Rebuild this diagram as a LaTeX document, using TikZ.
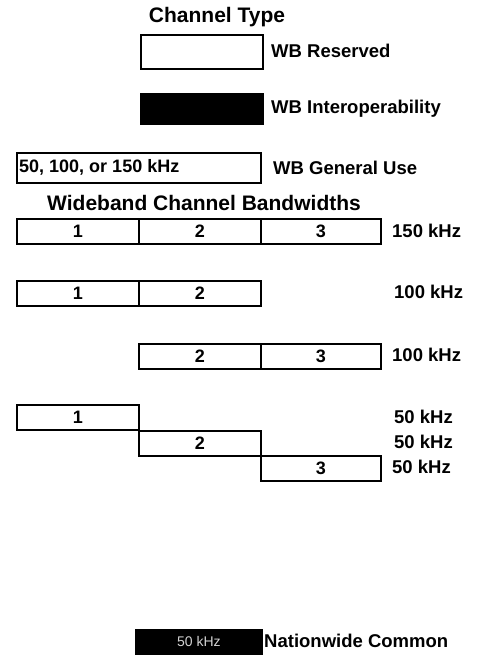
\documentclass[tikz,border=0pt]{standalone}
\usepackage{fontspec}
\setmainfont{Liberation Sans}
\begin{document}
\begin{tikzpicture}[x=1pt,y=-1pt,
  cell/.style={draw=black,line width=1.8pt,minimum height=25pt,inner sep=0pt,anchor=north west,font=\bfseries\fontsize{18}{20}\selectfont},
  lbl/.style={anchor=west,inner sep=0pt,font=\bfseries\fontsize{18.5}{20}\selectfont},
  ttl/.style={inner sep=0pt,font=\bfseries\fontsize{21}{24}\selectfont}]
\useasboundingbox (0,0) rectangle (478,670);
% Channel type legend
\node[ttl] (t1) at (217,17) {Channel Type};
\node[cell,minimum width=122pt,minimum height=34pt] (res) at (140,34) {};
\node[lbl] (lres) at (271,51) {WB Reserved};
\node[cell,fill=black,minimum width=122pt,minimum height=30pt] (int) at (140,93) {};
\node[lbl] (lint) at (271,109) {WB Interoperability};
\node[cell,minimum width=244pt,minimum height=30pt] (gen) at (16,152) {};
\node[lbl,font=\bfseries\fontsize{18}{20}\selectfont] (gtxt) at (19,167) {50, 100, or 150 kHz};
\node[lbl] (lgen) at (273,168) {WB General Use};
% Bandwidths
\node[ttl] (t2) at (204,203) {Wideband Channel Bandwidths};
% 150 kHz row
\node[cell,minimum width=122pt] (a1) at (16,218) {1};
\node[cell,minimum width=122pt] (a2) at (138,218) {2};
\node[cell,minimum width=120pt] (a3) at (260,218) {3};
\node[lbl] (la) at (392,231) {150 kHz};
% 100 kHz row
\node[cell,minimum width=122pt] (b1) at (16,280) {1};
\node[cell,minimum width=122pt] (b2) at (138,280) {2};
\node[lbl] (lb) at (394,292) {100 kHz};
% 100 kHz row 2
\node[cell,minimum width=122pt] (c2) at (138,343) {2};
\node[cell,minimum width=120pt] (c3) at (260,343) {3};
\node[lbl] (lc) at (392,355) {100 kHz};
% 50 kHz rows
\node[cell,minimum width=122pt] (d1) at (16,404) {1};
\node[lbl] (ld) at (394,417) {50 kHz};
\node[cell,minimum width=122pt] (e2) at (138,430) {2};
\node[lbl] (le) at (394,442) {50 kHz};
\node[cell,minimum width=120pt] (f3) at (260,455) {3};
\node[lbl] (lf) at (392,467) {50 kHz};
% Nationwide common
\node[cell,fill=black,text=gray!35,minimum width=126pt,minimum height=24pt,font=\fontsize{14}{16}\selectfont] (nat) at (135,629) {50 kHz};
\node[lbl] (lnat) at (264,641) {Nationwide Common};
\end{tikzpicture}
\end{document}
